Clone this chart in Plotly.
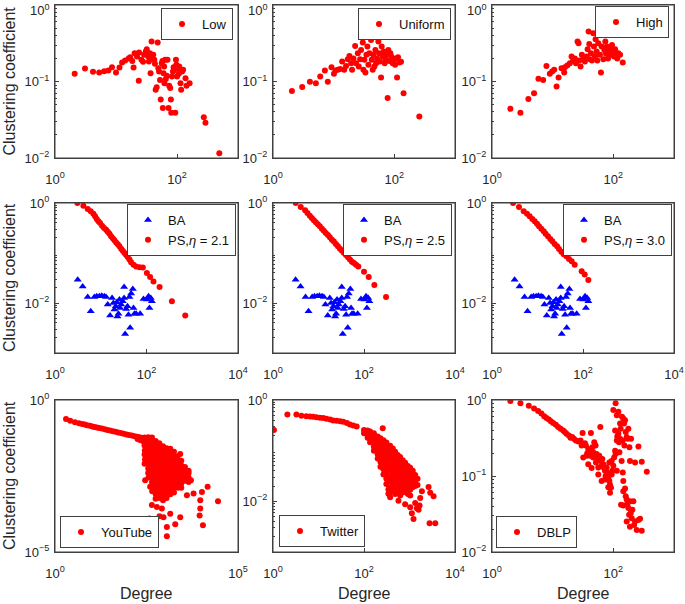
import plotly.graph_objects as go

# ---------------- data (degree, clustering coefficient) ----------------
low_deg = [2.1, 3.1, 4.2, 5.3, 6.4, 7.5, 8.6, 10, 11.4, 12.6,
           14.1, 16.1, 17.1, 18.5, 19.4, 20.2, 22.1, 23.6, 23.9, 26.1,
           27.8, 28.9, 30.8, 32, 33.7, 34.6, 35.9, 36.9, 38.3, 39.3,
           40.8, 42.5, 43.5, 44.7, 46.4, 48.2, 49.5, 50.8, 52.7, 54.1,
           56.2, 57.7, 58.5, 60, 61.5, 62.3, 63.9, 65.6, 68.1, 69.9,
           72.6, 74.5, 77.4, 79.4, 80.5, 82.6, 85.8, 88, 90.3, 93.8,
           96.2, 97.5, 100, 103, 107, 109, 114, 117, 121, 126,
           138, 143, 161, 275, 293, 494]
low_cc = [0.126, 0.148, 0.134, 0.131, 0.136, 0.139, 0.154, 0.131, 0.152, 0.177,
          0.188, 0.2, 0.208, 0.186, 0.152, 0.234, 0.212, 0.102, 0.239, 0.192,
          0.181, 0.223, 0.246, 0.264, 0.212, 0.182, 0.234, 0.128, 0.333, 0.2,
          0.223, 0.192, 0.17, 0.078, 0.084, 0.323, 0.149, 0.135, 0.105, 0.058,
          0.173, 0.186, 0.045, 0.128, 0.157, 0.095, 0.192, 0.108, 0.119, 0.192,
          0.045, 0.088, 0.082, 0.058, 0.039, 0.116, 0.135, 0.154, 0.142, 0.039,
          0.192, 0.165, 0.116, 0.149, 0.126, 0.157, 0.095, 0.078, 0.135, 0.142,
          0.11, 0.088, 0.095, 0.034, 0.029, 0.0115]

uni_deg = [2.05, 3.03, 4.06, 5.09, 6.0, 7.16, 8.0, 9.2, 10.1, 10.7,
           11.7, 12.8, 13.8, 14.9, 16, 17.1, 18.2, 19.4, 20.1, 21.2,
           22.6, 23.4, 25, 25.9, 27.3, 28.3, 30.2, 30.9, 32.1, 33.4,
           34.7, 36, 37.4, 38.8, 41.3, 42.4, 44, 45.2, 46.9, 48.7,
           50, 51.9, 54.6, 56, 58.1, 60.4, 61.9, 64.3, 66.8, 69.4,
           72.1, 75.7, 77.6, 79.6, 82.7, 86, 89.3, 94, 97.5, 103,
           106, 111, 115, 121, 129, 142, 258]
uni_cc = [0.075, 0.085, 0.099, 0.095, 0.116, 0.139, 0.099, 0.154, 0.126, 0.139,
          0.142, 0.146, 0.182, 0.142, 0.16, 0.195, 0.216, 0.173, 0.142, 0.2,
          0.292, 0.173, 0.234, 0.157, 0.195, 0.259, 0.323, 0.142, 0.192, 0.131,
          0.223, 0.286, 0.165, 0.234, 0.349, 0.192, 0.142, 0.223, 0.157, 0.259,
          0.173, 0.2, 0.333, 0.234, 0.182, 0.113, 0.286, 0.212, 0.246, 0.173,
          0.195, 0.223, 0.061, 0.259, 0.186, 0.234, 0.212, 0.173, 0.192, 0.165,
          0.2, 0.113, 0.208, 0.177, 0.181, 0.07, 0.035]

high_deg = [2.01, 2.94, 3.98, 4.94, 5.83, 6.97, 7.9, 8.97, 9.8, 10.6,
            11.6, 12.5, 14, 15.5, 15.9, 17.4, 19.2, 20.5, 21.8, 23.2,
            24.2, 25.7, 26.7, 27.4, 28.8, 30.3, 31.9, 34, 36.2, 37.7,
            39.1, 40.1, 41.1, 42.7, 44.4, 46.7, 47.9, 49.8, 51, 53,
            54.4, 56.5, 58.7, 60.2, 62.5, 64.1, 66.7, 68.4, 71, 73.8,
            75.7, 78.5, 81.7, 84.8, 88.1, 91.5, 95.1, 98.7, 103, 107,
            111, 116, 121, 129, 143]
high_cc = [0.044, 0.039, 0.059, 0.07, 0.109, 0.105, 0.16, 0.126, 0.135, 0.142,
           0.086, 0.113, 0.149, 0.131, 0.154, 0.162, 0.173, 0.212, 0.188, 0.2,
           0.173, 0.333, 0.316, 0.188, 0.157, 0.223, 0.2, 0.182, 0.212, 0.264,
           0.449, 0.31, 0.195, 0.234, 0.188, 0.427, 0.286, 0.212, 0.357, 0.246,
           0.188, 0.316, 0.427, 0.223, 0.131, 0.286, 0.406, 0.195, 0.259, 0.333,
           0.23, 0.286, 0.2, 0.246, 0.272, 0.223, 0.301, 0.239, 0.212, 0.264,
           0.23, 0.2, 0.234, 0.223, 0.177]

ba_deg = [3.14, 4.03, 5.19, 6.04, 7.26, 8.17, 9.35, 10.5, 12, 13.1,
          14.2, 16, 17.7, 18.9, 19.9, 21.3, 22.4, 23.2, 24.4, 25.6,
          26.5, 27.9, 30.3, 32.4, 32.4, 34.1, 35.9, 38.4, 40.4, 42.4,
          43.9, 46.1, 50.2, 51.9, 54.6, 59.4, 72.6, 86, 102, 111,
          116, 124, 131]
ba_cc = [0.0293, 0.0215, 0.0132, 0.0068, 0.0132, 0.0136, 0.0136, 0.014, 0.0136, 0.0132,
         0.0093, 0.0056, 0.0126, 0.01, 0.0074, 0.0086, 0.0103, 0.0054, 0.0061, 0.0117,
         0.0079, 0.0093, 0.0108, 0.0126, 0.0209, 0.0024, 0.0076, 0.0086, 0.0058, 0.0132,
         0.0032, 0.0154, 0.019, 0.0079, 0.0061, 0.0061, 0.0061, 0.012, 0.0117, 0.0136,
         0.0079, 0.0126, 0.0108]

ps21_deg = [3.08, 4.17, 5.19, 6.04, 6.9, 7.52, 8.17, 8.89, 9.67, 10.7,
            11.8, 13.1, 14.2, 15.5, 16.8, 18.3, 19.9, 21.7, 23.6, 25.6,
            27.9, 30.3, 33, 35.9, 39, 42.4, 46.1, 51.9, 59.4, 70.3,
            83.2, 102, 120, 142, 193, 359, 703]
ps21_cc = [1.0, 0.885, 0.759, 0.681, 0.612, 0.541, 0.479, 0.43, 0.398, 0.352,
           0.316, 0.293, 0.267, 0.244, 0.216, 0.197, 0.179, 0.163, 0.149, 0.136,
           0.122, 0.111, 0.1, 0.091, 0.083, 0.074, 0.065, 0.058, 0.054, 0.052,
           0.051, 0.04, 0.033, 0.027, 0.021, 0.0108, 0.0056]

ps25_deg = [3.16, 4.07, 5.08, 5.72, 6.44, 7.13, 7.89, 8.73, 9.67, 10.7,
            11.9, 13.1, 14.5, 16.1, 17.8, 19.7, 21.8, 24.1, 26.7, 29.6,
            32.7, 36.2, 40.1, 44.4, 49.1, 54.3, 60.1, 66.7, 75, 100,
            127, 169, 305]
ps25_cc = [1.0, 0.832, 0.714, 0.631, 0.558, 0.501, 0.45, 0.41, 0.374, 0.341,
           0.307, 0.28, 0.251, 0.229, 0.206, 0.185, 0.169, 0.151, 0.136, 0.122,
           0.111, 0.1, 0.091, 0.082, 0.074, 0.067, 0.063, 0.058, 0.054, 0.042,
           0.033, 0.023, 0.0132]

ps30_deg = [2.9, 3.92, 4.97, 5.88, 6.73, 7.69, 8.66, 9.75, 10.8, 12.1,
            13.7, 15.1, 17, 19.1, 21.2, 23.8, 26.9, 29.7, 33.4, 37.6,
            43.1, 49.2, 56.4, 65.6, 93.5, 109, 131]
ps30_cc = [1.0, 0.832, 0.681, 0.612, 0.541, 0.479, 0.43, 0.386, 0.341, 0.307,
           0.271, 0.244, 0.216, 0.191, 0.171, 0.151, 0.136, 0.12, 0.106, 0.094,
           0.086, 0.076, 0.068, 0.058, 0.043, 0.037, 0.029]

# YouTube: thin band, dense cloud (column by column), outliers
yt_deg = [2.0, 2.6, 3.5, 4.5, 5.5, 6.5, 7.5, 9, 10.5, 12,
          14, 16, 19, 23, 27, 32, 38, 45, 53, 63,
          75, 90, 105, 125, 150, 175, 200, 230, 260,
          180, 210, 250,
          282, 286, 279, 284, 280, 287, 281,
          355, 350, 358, 352, 356, 349, 357, 353, 351, 359,
          447, 452, 443, 449, 445, 451, 446, 448, 444, 450, 447, 442, 453,
          562, 557, 566, 560, 564, 558, 563, 561, 559, 565, 562, 556, 567, 560,
          708, 714, 702, 710, 705, 712, 707, 703, 711, 706, 709, 704, 713,
          891, 885, 897, 889, 893, 887, 895, 890, 884, 898, 892, 886, 894,
          1120, 1128, 1112, 1124, 1116, 1122, 1118, 1130, 1110, 1125, 1119, 1121,
          1410, 1402, 1418, 1406, 1414, 1409, 1411, 1400, 1420, 1407, 1413,
          1780, 1790, 1772, 1785, 1776, 1782, 1778, 1788, 1774, 1781,
          2240, 2250, 2232, 2245, 2236, 2242, 2238, 2248,
          2820, 2810, 2830, 2815, 2825, 2818, 2822,
          3550, 3540, 3560, 3545,
          4470, 4460, 4480,
          291, 398, 443, 607, 831, 923, 1406, 1140, 1928, 2642,
          2642, 4466, 5170, 6110, 9310, 10350, 14790, 9310, 8930, 11010,
          28370, 382, 718, 1140, 4020]
yt_cc = [0.236, 0.209, 0.184, 0.171, 0.162, 0.155, 0.149, 0.141, 0.135, 0.13,
         0.125, 0.12, 0.115, 0.109, 0.104, 0.099, 0.094, 0.09, 0.086, 0.082,
         0.078, 0.074, 0.071, 0.068, 0.064, 0.0615, 0.059, 0.057, 0.055,
         0.052, 0.048, 0.045,
         0.058, 0.045, 0.032, 0.022, 0.016, 0.011, 0.008,
         0.06, 0.045, 0.032, 0.022, 0.016, 0.011, 0.008, 0.0056, 0.004, 0.0028,
         0.058, 0.042, 0.03, 0.021, 0.015, 0.011, 0.008, 0.0056, 0.004, 0.0028, 0.002, 0.0014, 0.001,
         0.045, 0.033, 0.024, 0.017, 0.012, 0.0085, 0.006, 0.0043, 0.003, 0.0021, 0.0015, 0.0011, 0.0008, 0.00056,
         0.038, 0.027, 0.019, 0.0135, 0.0095, 0.0068, 0.0048, 0.0034, 0.0024, 0.0017, 0.0012, 0.00085, 0.0006,
         0.03, 0.022, 0.016, 0.011, 0.008, 0.0056, 0.004, 0.0028, 0.002, 0.0014, 0.001, 0.0007, 0.0005,
         0.026, 0.019, 0.0135, 0.0095, 0.0068, 0.0048, 0.0034, 0.0024, 0.0017, 0.0012, 0.00085, 0.0006,
         0.025, 0.018, 0.0126, 0.0089, 0.0063, 0.0045, 0.0032, 0.0022, 0.0016, 0.0011, 0.0008,
         0.02, 0.014, 0.01, 0.007, 0.005, 0.0035, 0.0025, 0.0018, 0.0013, 0.0009,
         0.014, 0.01, 0.007, 0.005, 0.0035, 0.0025, 0.0018, 0.0013,
         0.01, 0.007, 0.005, 0.0035, 0.0025, 0.0018, 0.0013,
         0.0063, 0.0045, 0.0032, 0.0022,
         0.004, 0.0028, 0.002,
         0.0023, 0.0014, 0.00035, 0.0003, 0.00027, 0.00014, 0.00018, 0.0000667, 0.0000817, 0.00014,
         0.0166, 0.0047, 0.0023, 0.00084, 0.0005, 0.00095, 0.0014, 0.00027, 0.00016, 0.0000757,
         0.00047, 0.000126, 0.00015, 0.0000328, 0.00074]

# Twitter: thin band, widening cloud (column by column), outliers
tw_deg = [1.05, 2.07, 3.27, 4.2, 5.4, 6.5, 7.6, 9, 10.7, 12.7,
          15, 18, 21, 25, 30, 35, 42, 49, 58, 69,
          100, 100,
          120, 120, 120,
          136, 136, 136, 136,
          165, 165, 165, 165, 165,
          200, 200, 200, 200, 200, 200,
          230, 230, 230, 230, 230, 230, 230,
          267, 267, 267, 267, 267, 267, 267, 267,
          310, 310, 310, 310, 310, 310, 310, 310, 310,
          375, 375, 375, 375, 375, 375, 375, 375, 375, 375,
          430, 430, 430, 430, 430, 430, 430, 430, 430,
          483, 483, 483, 483, 483, 483, 483, 483, 483,
          550, 550, 550, 550, 550, 550, 550, 550,
          622, 622, 622, 622, 622, 622, 622, 622,
          710, 710, 710, 710, 710, 710, 710,
          802, 802, 802, 802, 802, 802,
          920, 920, 920, 920, 920, 920,
          1035, 1035, 1035, 1035, 1035, 1035,
          1180, 1180, 1180, 1180,
          1334, 1334, 1334,
          1500, 1500,
          258, 344, 375, 572, 802, 1126, 1225, 1334, 1452, 1580,
          1720, 1873, 2626, 2858, 3383, 2763, 3683, 1035, 1663, 344]
tw_cc = [0.257, 0.515, 0.515, 0.49, 0.476, 0.47, 0.465, 0.455, 0.448, 0.44,
         0.425, 0.41, 0.395, 0.39, 0.38, 0.372, 0.35, 0.33, 0.315, 0.3,
         0.255, 0.22,
         0.25, 0.21, 0.18,
         0.24, 0.2, 0.17, 0.147,
         0.22, 0.18, 0.15, 0.12, 0.1,
         0.19, 0.16, 0.13, 0.105, 0.085, 0.07,
         0.175, 0.145, 0.12, 0.095, 0.075, 0.06, 0.048,
         0.16, 0.13, 0.105, 0.085, 0.068, 0.054, 0.043, 0.034,
         0.145, 0.115, 0.09, 0.072, 0.057, 0.045, 0.036, 0.028, 0.022,
         0.125, 0.1, 0.08, 0.063, 0.05, 0.04, 0.031, 0.025, 0.019, 0.015,
         0.11, 0.087, 0.069, 0.055, 0.043, 0.034, 0.027, 0.021, 0.016,
         0.095, 0.075, 0.06, 0.047, 0.037, 0.029, 0.023, 0.018, 0.014,
         0.082, 0.065, 0.051, 0.04, 0.032, 0.025, 0.019, 0.015,
         0.075, 0.059, 0.046, 0.036, 0.028, 0.022, 0.017, 0.013,
         0.065, 0.051, 0.04, 0.031, 0.024, 0.019, 0.015,
         0.058, 0.045, 0.035, 0.027, 0.021, 0.016,
         0.05, 0.039, 0.03, 0.023, 0.018, 0.014,
         0.046, 0.036, 0.028, 0.022, 0.017, 0.013,
         0.04, 0.031, 0.024, 0.019,
         0.033, 0.026, 0.02,
         0.028, 0.021,
         0.277, 0.0141, 0.012, 0.0103, 0.0088, 0.0058, 0.0045, 0.0093, 0.0073, 0.0068,
         0.0117, 0.0159, 0.0191, 0.0147, 0.0126, 0.0037, 0.0037, 0.0076, 0.0083, 0.0172]

dblp_deg = [2.01, 2.94, 4.04, 4.94, 5.76, 6.53, 7.24, 7.91, 8.65, 9.33,
            10.2, 11.3, 12.3, 13.5, 14.9, 15.9, 16.9, 18.5, 19.7, 21,
            22.4, 24.1, 26.4, 28.8, 31.1, 34, 35.3, 37.2, 38.6, 41.1,
            42.7, 45, 46.7, 48.5, 51, 53, 55.1, 58.7, 61, 62.5,
            65.8, 68.4, 70.1, 72.8, 74.6, 77.6, 79.6, 82.6, 85.9, 88.1,
            91.5, 93.8, 96.2, 100, 103, 107, 109, 114, 116, 121,
            124, 129, 132, 136, 139, 146, 150, 156, 160, 166,
            173, 177, 184, 188, 196, 100, 109, 114, 121, 129,
            137, 143, 146, 146, 156, 160, 166, 170, 177, 182,
            188, 194, 201, 214, 220, 228, 243, 259, 276, 294,
            228, 259, 294, 356, 134, 146, 166, 188, 206, 114,
            85.9, 64.1, 56.5, 51.7, 46.7, 41.1, 36.2, 31.9, 30, 38.6,
            43.9, 56.5, 64.1, 72.8, 82.6, 88.1, 107, 143, 152, 126,
            93.8]
dblp_cc = [0.97, 0.903, 0.84, 0.774, 0.714, 0.664, 0.612, 0.581, 0.552, 0.525,
           0.499, 0.474, 0.441, 0.419, 0.398, 0.378, 0.36, 0.341, 0.318, 0.325,
           0.308, 0.293, 0.284, 0.293, 0.367, 0.27, 0.251, 0.199, 0.227, 0.215,
           0.367, 0.239, 0.205, 0.278, 0.251, 0.195, 0.175, 0.185, 0.441, 0.158,
           0.167, 0.143, 0.127, 0.117, 0.1, 0.129, 0.111, 0.095, 0.086, 0.077,
           0.07, 0.105, 0.117, 0.136, 0.175, 0.215, 0.195, 0.293, 0.331, 0.36,
           0.278, 0.308, 0.419, 0.489, 0.6, 0.57, 0.489, 0.541, 0.378, 0.325,
           0.308, 0.419, 0.239, 0.158, 0.308, 0.736, 0.903, 0.631, 0.699, 0.489,
           0.158, 0.111, 0.086, 0.063, 0.0685, 0.054, 0.0489, 0.0428, 0.0378, 0.0308,
           0.0464, 0.0325, 0.0278, 0.0464, 0.0227, 0.0251, 0.0195, 0.0264, 0.0273, 0.0191,
           0.151, 0.244, 0.154, 0.114, 0.0419, 0.041, 0.0251, 0.0215, 0.036, 0.117,
           0.151, 0.136, 0.129, 0.151, 0.175, 0.185, 0.185, 0.175, 0.251, 0.143,
           0.127, 0.105, 0.086, 0.09, 0.0713, 0.06, 0.398, 0.293, 0.251, 0.205,
           0.158]

legend_names = ["Low", "Uniform", "High", "BA", "PS,<i>η</i> = 2.1", "PS,<i>η</i> = 2.5",
                "PS,<i>η</i> = 3.0", "YouTube", "Twitter", "DBLP"]

# ---------------- styling ----------------
FONT = "Liberation Sans, Arial, Helvetica, sans-serif"
AXC = "#404040"
TXT = "#262626"
RED = "#ff0000"
BLUE = "#0000ff"
W, H = 685, 604

col_px = [(55, 238), (273, 455), (492, 674)]
row_px = [(5, 158), (203, 353), (400, 552)]


def xdom(c):
    a, b = col_px[c]
    return [a / W, b / W]


def ydom(r):
    a, b = row_px[r]
    return [1 - b / H, 1 - a / H]


def pw(n):
    return "10<sup>" + ("−" + str(-n) if n < 0 else str(n)) + "</sup>"


def minor_vals(lo, hi):
    out = []
    for e in range(lo, hi):
        for m in range(2, 10):
            out.append(m * 10.0 ** e)
    return out


def axis(domain, rng, tvals, anchor, is_x=True, minor=False, hide_top=False):
    texts = [pw(v) for v in tvals]
    if hide_top:
        texts[-1] = ""
    d = dict(type="log", domain=domain, range=rng, anchor=anchor, automargin=False,
             tickmode="array", tickvals=[10.0 ** v for v in tvals],
             ticktext=texts,
             showline=True, linecolor=AXC, linewidth=1, mirror=True,
             ticks="inside", ticklen=4, tickcolor=AXC, tickwidth=1,
             showgrid=False, zeroline=False, ticklabeloverflow="allow",
             tickfont=dict(family=FONT, size=13, color=TXT))
    d["ticklabelstandoff"] = 9 if is_x else 2
    if minor:
        d["minor"] = dict(ticks="inside", ticklen=2, tickcolor=AXC, tickwidth=1,
                          tickmode="array", tickvals=minor_vals(rng[0], rng[1]), showgrid=False)
    return d


specs = [
    (0, 0, [0, 3], [0, 2], [-2, 0], [-2, -1, 0], True),
    (0, 1, [0, 3], [0, 2], [-2, 0], [-2, -1, 0], True),
    (0, 2, [0, 3], [0, 2], [-2, 0], [-2, -1, 0], True),
    (1, 0, [0, 4], [0, 2, 4], [-3, 0], [-2, 0], True),
    (1, 1, [0, 4], [0, 2, 4], [-3, 0], [-2, 0], True),
    (1, 2, [0, 4], [0, 2, 4], [-3, 0], [-2, 0], True),
    (2, 0, [0, 5], [0, 5], [-5, 0], [-5, 0], False),
    (2, 1, [0, 4], [0, 2, 4], [-3, 0], [-2, 0], True),
    (2, 2, [0, 3], [0, 2], [-2, 0], [-2, -1, 0], True),
]

fig = go.Figure()
layout = {}
shapes = []
annotations = []
for i, (r, c, xr, xt, yr, yt, ym) in enumerate(specs, start=1):
    sfx = "" if i == 1 else str(i)
    layout["xaxis" + sfx] = axis(xdom(c), xr, xt, "y" + sfx, is_x=True)
    layout["yaxis" + sfx] = axis(ydom(r), yr, yt, "x" + sfx, is_x=False, minor=ym, hide_top=(r == 0))
    shapes.append(dict(type="rect", xref="x" + sfx + " domain", yref="y" + sfx + " domain",
                       x0=0, x1=1, y0=0, y1=1, layer="above",
                       line=dict(color=AXC, width=1), fillcolor="rgba(0,0,0,0)"))
    if r == 0:
        # top label of the first row, nudged down so it stays inside the page
        annotations.append(dict(text=pw(yt[-1]), x=(col_px[c][0] - 3) / W, y=1 - 10 / H,
                                xref="paper", yref="paper", showarrow=False,
                                xanchor="right", yanchor="middle",
                                font=dict(family=FONT, size=13, color=TXT)))


def add(i, x, y, name, color, symbol, size):
    sfx = "" if i == 1 else str(i)
    fig.add_trace(go.Scatter(x=x, y=y, mode="markers", name=name,
                             marker=dict(color=color, symbol=symbol, size=size, line=dict(width=0)),
                             xaxis="x" + sfx, yaxis="y" + sfx,
                             legend="legend" + sfx, showlegend=True))


add(1, low_deg, low_cc, legend_names[0], RED, "circle", 6)
add(2, uni_deg, uni_cc, legend_names[1], RED, "circle", 6)
add(3, high_deg, high_cc, legend_names[2], RED, "circle", 6)
add(4, ba_deg, ba_cc, legend_names[3], BLUE, "triangle-up", 7)
add(4, ps21_deg, ps21_cc, legend_names[4], RED, "circle", 6)
add(5, ba_deg, ba_cc, legend_names[3], BLUE, "triangle-up", 7)
add(5, ps25_deg, ps25_cc, legend_names[5], RED, "circle", 6)
add(6, ba_deg, ba_cc, legend_names[3], BLUE, "triangle-up", 7)
add(6, ps30_deg, ps30_cc, legend_names[6], RED, "circle", 6)
add(7, yt_deg, yt_cc, legend_names[7], RED, "circle", 6)
add(8, tw_deg, tw_cc, legend_names[8], RED, "circle", 6)
add(9, dblp_deg, dblp_cc, legend_names[9], RED, "circle", 6)


def leg(xpx, ypx, xa, ya):
    return dict(x=xpx / W, y=1 - ypx / H, xanchor=xa, yanchor=ya,
                bgcolor="white", bordercolor=AXC, borderwidth=1,
                font=dict(family=FONT, size=13, color="#111111"),
                itemwidth=30, tracegroupgap=0, traceorder="normal")


legpos = [
    (233, 8, "right", "top"), (451, 8, "right", "top"), (669, 6, "right", "top"),
    (236, 204, "right", "top"), (452, 204, "right", "top"), (672, 204, "right", "top"),
    (60, 548, "left", "bottom"), (279, 547, "left", "bottom"), (496, 548, "left", "bottom"),
]
for i, (xp, yp, xa, ya) in enumerate(legpos, start=1):
    layout["legend" + ("" if i == 1 else str(i))] = leg(xp, yp, xa, ya)

for r in range(3):
    a, b = row_px[r]
    annotations.append(dict(text="Clustering coefficient", x=9 / W, y=1 - (a + b) / 2 / H,
                            xref="paper", yref="paper", showarrow=False, textangle=-90,
                            xanchor="center", yanchor="middle",
                            font=dict(family=FONT, size=16, color=TXT)))
for c in range(3):
    a, b = col_px[c]
    annotations.append(dict(text="Degree", x=(a + b) / 2 / W, y=1 - 593 / H,
                            xref="paper", yref="paper", showarrow=False,
                            xanchor="center", yanchor="middle",
                            font=dict(family=FONT, size=16, color=TXT)))

fig.update_layout(template="none", width=W, height=H,
                  margin=dict(l=0, r=0, t=0, b=0, pad=0, autoexpand=False),
                  plot_bgcolor="white", paper_bgcolor="white",
                  font=dict(family=FONT, color=TXT),
                  annotations=annotations, shapes=shapes, **layout)

fig.write_html("out.html", config={"displayModeBar": False},
               post_script="document.body.style.margin='0px';")
